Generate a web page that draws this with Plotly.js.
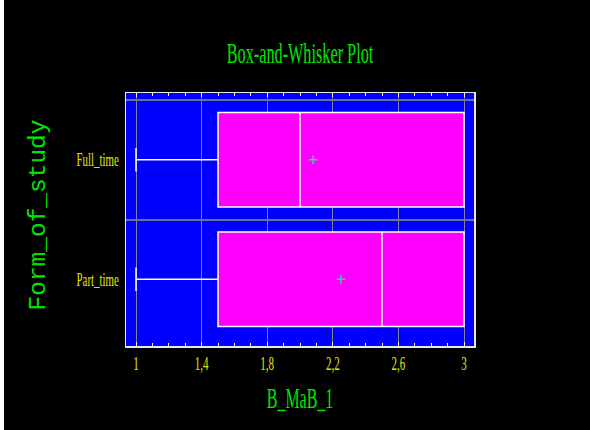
<!DOCTYPE html>
<html><head><meta charset="utf-8">
<script src="https://cdn.plot.ly/plotly-3.0.1.min.js"></script>
<style>html,body{margin:0;padding:0;background:#fff;overflow:hidden;} #chart{width:586px;height:430px;margin-left:4px;}</style>
</head><body><div id="chart"></div>
<script>
const categories = ['Full_time', 'Part_time'];
const minValues = [1, 1];
const q1Values = [1.5, 1.5];
const medianValues = [2.0, 2.5];
const q3Values = [3, 3];
const maxValues = [3, 3];
const meanValues = [2.08, 2.25];
const xTickValues = [1, 1.4, 1.8, 2.2, 2.6, 3];

const green = '#00e600';
const yellow = '#e6e600';

const boxTrace = {
  type: 'box', orientation: 'h',
  y: categories, q1: q1Values, median: medianValues, q3: q3Values,
  lowerfence: minValues, upperfence: maxValues,
  boxpoints: false, width: 0.79, whiskerwidth: 0.25,
  fillcolor: '#ff00ff', line: {color: '#ffffff', width: 1.5},
  hoverinfo: 'skip', showlegend: false
};
const meanTrace = {
  type: 'scatter', mode: 'markers', x: meanValues, y: categories,
  marker: {symbol: 'cross-thin', size: 6, color: '#20e080', line: {color: '#20e080', width: 1.5}},
  hoverinfo: 'skip', showlegend: false
};

const layout = {
  width: 586, height: 430,
  paper_bgcolor: '#000000', plot_bgcolor: '#0000ff',
  margin: {l: 122, r: 116, t: 93, b: 84, pad: 0},
  separators: ', ',
  title: {text: 'Box-and-Whisker Plot', font: {family: 'Liberation Serif', size: 29, color: green},
          x: 0.5, xref: 'paper', xanchor: 'center', y: 1 - 53/430, yref: 'container', yanchor: 'middle'},
  xaxis: {
    range: [1 - 10/164, 3 + 10/164], tickmode: 'array', tickvals: xTickValues,
    ticks: 'inside', ticklen: 4, tickcolor: '#ffffff', tickwidth: 1,
    showline: true, linecolor: '#e8e8e8', linewidth: 1.5, mirror: 'ticks',
    showgrid: true, gridcolor: '#8080a8', gridwidth: 1, zeroline: false,
    minor: {tickmode: 'linear', tick0: 1, dtick: 0.1, ticks: 'inside', ticklen: 3, tickcolor: '#ffffff', showgrid: false},
    tickfont: {family: 'Liberation Serif', size: 19, color: yellow},
    ticklabelstandoff: 0,
    title: {text: 'B_MaB_1', font: {family: 'Liberation Serif', size: 29, color: green}, standoff: 14}
  },
  yaxis: {
    type: 'category', categoryorder: 'array', categoryarray: categories,
    range: [1.558, -0.558], tickson: 'boundaries', ticks: '',
    showline: true, linecolor: '#e8e8e8', linewidth: 1.5, mirror: true,
    showgrid: true, gridcolor: '#707090', gridwidth: 2, zeroline: false,
    tickfont: {family: 'Liberation Serif', size: 19, color: yellow},
    ticklabelstandoff: 2,
    title: {text: 'Form_of_study', font: {family: 'Liberation Mono', size: 24, color: green}, standoff: 10}
  }
};

function squeeze(sel, s) {
  document.querySelectorAll(sel).forEach(t => {
    const x = parseFloat(t.getAttribute('x') || 0), y = parseFloat(t.getAttribute('y') || 0);
    const tr = t.getAttribute('transform') || '';
    t.setAttribute('transform', tr + ` translate(${x},${y}) scale(${s},1) translate(${-x},${-y})`);
  });
}
function moveCenter(sel, cx, cy) {
  const el = document.querySelector(sel);
  if (!el) return;
  const r = el.getBoundingClientRect();
  const dx = cx - (r.left + r.right) / 2, dy = cy - (r.top + r.bottom) / 2;
  el.setAttribute('transform', `translate(${dx},${dy}) ` + (el.getAttribute('transform') || ''));
}

Plotly.newPlot('chart', [boxTrace, meanTrace], layout, {staticPlot: true}).then(() => {
  squeeze('.gtitle', 0.56);
  squeeze('.xtitle', 0.55);
  squeeze('.xtick text', 0.58);
  squeeze('.ytick text', 0.57);
  squeeze('.ytitle', 1.02);
  moveCenter('.ytitle', 39, 215);
});
</script></body></html>
